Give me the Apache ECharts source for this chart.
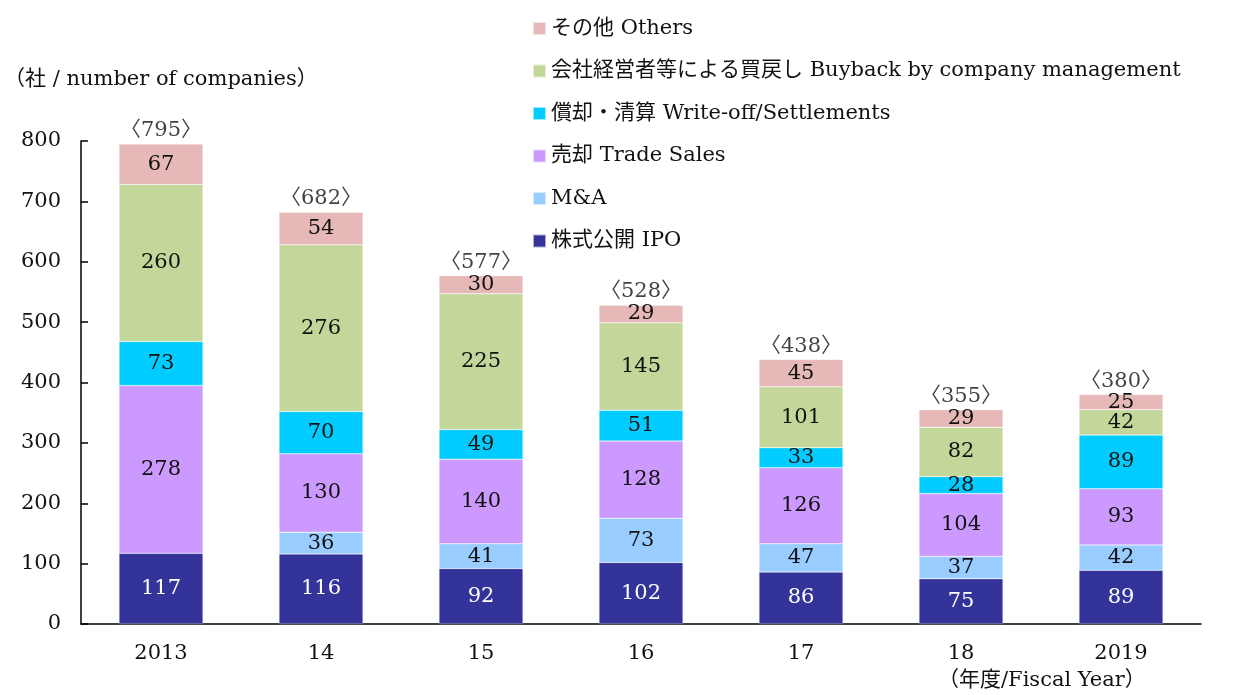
<!DOCTYPE html>
<html><head><meta charset="utf-8">
<script src="https://cdn.jsdelivr.net/npm/echarts@6/dist/echarts.min.js"></script>
<style>html,body{margin:0;padding:0;background:#fff}#c{width:1235px;height:695px}</style>
</head><body><div id="c"></div>
<script>
const categories = ['2013','14','15','16','17','18','2019'];
const ipo = [117,116,92,102,86,75,89];
const ma = [null,36,41,73,47,37,42];
const tradeSales = [278,130,140,128,126,104,93];
const writeOff = [73,70,49,51,33,28,89];
const buyback = [260,276,225,145,101,82,42];
const others = [67,54,30,29,45,29,25];
const totals = [795,682,577,528,438,355,380];
const yTicks = [0,100,200,300,400,500,600,700,800];

const names = ['株式公開 IPO','M&A','売却 Trade Sales','償却・清算 Write-off/Settlements','会社経営者等による買戻し Buyback by company management','その他 Others'];
const colors = ['#333399','#99CCFF','#CC99FF','#00CCFF','#C4D79B','#E6B8B7'];
const datas = [ipo, ma, tradeSales, writeOff, buyback, others];
const FF = "'DejaVu Serif','Noto Sans CJK JP',serif";

const series = datas.map((d,i)=>({
  name: names[i], type:'bar', stack:'a', data:d, barWidth:84,
  itemStyle:{color:colors[i], borderColor:'rgba(255,255,255,0.6)', borderWidth:0.5},
  label:{show:true, position:'inside', fontFamily:FF, fontSize:21, color: i===0?'#fff':'#111',
    formatter: p => (p.value==null||p.value===0)?'':String(p.value)},
  emphasis:{disabled:true}
}));
series.push({
  type:'scatter', data: totals, symbolSize:0, silent:true,
  label:{show:true, position:'top', distance:3, fontFamily:FF, fontSize:21, color:'#111', formatter: p=>'〈'+p.value+'〉'}
});

const chart = echarts.init(document.getElementById('c'));
chart.setOption({
  animation:false,
  textStyle:{fontFamily:FF},
  grid:{left:81, right:34, top:141, bottom:71},
  legend:{
    data: names.slice().reverse(), orient:'vertical', left:527, top:13,
    icon:'rect', itemWidth:13, itemHeight:13, itemGap:21.5,
    textStyle:{fontFamily:FF, fontSize:21, color:'#111', padding:[0,0,0,0]},
    selectedMode:false
  },
  xAxis:{type:'category', data:categories,
    axisLine:{lineStyle:{color:'#000', width:1.5}}, axisTick:{show:false},
    axisLabel:{fontFamily:FF, fontSize:21, color:'#111', margin:19}},
  yAxis:{type:'value', min:0, max:800, interval:100,
    axisLine:{show:true, lineStyle:{color:'#000', width:1.5}},
    axisTick:{show:true, inside:true, length:7, lineStyle:{color:'#000', width:1.5}},
    splitLine:{show:false},
    axisLabel:{fontFamily:FF, fontSize:21, color:'#111', margin:20,
      formatter: v => yTicks.includes(v)? String(v):''}},
  graphic:[
    {type:'text', left:4, top:69, style:{text:'（社 / number of companies）', font:"21px "+FF, fill:'#111'}},
    {type:'text', left:938, top:670, style:{text:'（年度/Fiscal Year）', font:"21px "+FF, fill:'#111'}}
  ],
  series
});
</script></body></html>
